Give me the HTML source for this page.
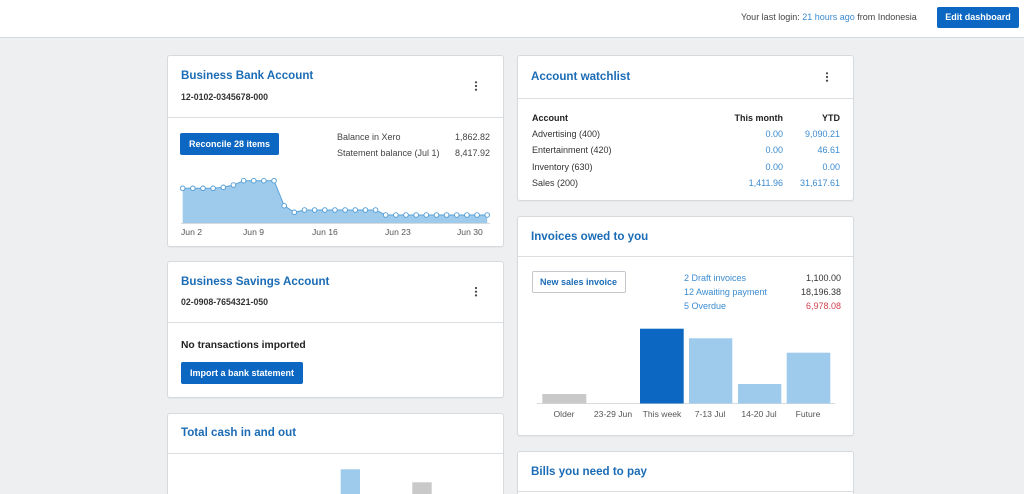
<!DOCTYPE html>
<html><head><meta charset="utf-8">
<style>
*{margin:0;padding:0;box-sizing:border-box}
html,body{width:1024px;height:494px;overflow:hidden;background:#edeff1;font-family:"Liberation Sans",Arial,sans-serif;color:#2a2a2a}
#wrap{position:relative;width:1024px;height:494px;overflow:hidden;background:#edeff1}
.a{position:absolute;white-space:nowrap}
.topbar{position:absolute;left:0;top:0;width:1024px;height:38px;background:#fff;border-bottom:1px solid #d6d9dc}
.card{position:absolute;background:#fff;border:1px solid #d7dadd;border-radius:3px;box-shadow:0 1px 1px rgba(0,0,0,0.04)}
.title{font-size:11.6px;font-weight:bold;color:#1b6cb6;line-height:14px}
.sm{font-size:9px;line-height:12px}
.b{font-weight:bold}
.btn{position:absolute;background:#0b67c2;color:#fff;font-weight:bold;font-size:9px;border-radius:2px;text-align:center}
.lnk{color:#3b8bd0}
.r{text-align:right}
.gl{color:#555}
</style></head><body>
<div id="wrap">
<div class="topbar"></div>
<div class="a sm" style="left:741px;top:11px;color:#444">Your last login: <span class="lnk">21 hours ago</span> from Indonesia</div>
<div class="btn" style="left:937px;top:7px;width:82px;height:21px;line-height:21px">Edit dashboard</div>

<!-- cards -->
<div class="card" style="left:167px;top:55px;width:337px;height:192px"></div>
<div class="card" style="left:167px;top:261px;width:337px;height:137px"></div>
<div class="card" style="left:167px;top:413px;width:337px;height:100px"></div>
<div class="card" style="left:517px;top:55px;width:337px;height:146px"></div>
<div class="card" style="left:517px;top:216px;width:337px;height:220px"></div>
<div class="card" style="left:517px;top:451px;width:337px;height:60px"></div>

<svg class="a" style="left:0;top:0" width="1024" height="494" viewBox="0 0 1024 494">
  <g stroke="#dcdfe2" stroke-width="1">
    <line x1="168" y1="117.5" x2="503" y2="117.5"/>
    <line x1="168" y1="322.5" x2="503" y2="322.5"/>
    <line x1="168" y1="453.5" x2="503" y2="453.5"/>
    <line x1="518" y1="98.5" x2="853" y2="98.5"/>
    <line x1="518" y1="256.5" x2="853" y2="256.5"/>
    <line x1="518" y1="491.5" x2="853" y2="491.5"/>
  </g>
  <!-- kebabs -->
  <g fill="#444">
    <circle cx="476" cy="82.3" r="1.1"/><circle cx="476" cy="86" r="1.1"/><circle cx="476" cy="89.7" r="1.1"/>
    <circle cx="476" cy="288" r="1.1"/><circle cx="476" cy="291.7" r="1.1"/><circle cx="476" cy="295.4" r="1.1"/>
    <circle cx="827" cy="73.3" r="1.1"/><circle cx="827" cy="77" r="1.1"/><circle cx="827" cy="80.7" r="1.1"/>
  </g>
  <!-- bank area chart -->
  <polygon fill="#9ecbeb" points="182.7,223.3 182.7,188.3 192.85,188.3 203,188.3 213.15,188.3 223.3,187.3 233.45,185 243.6,180.7 253.75,180.7 263.9,180.7 274.05,180.7 284.2,205.7 294.35,212.3 304.5,210 314.65,210 324.8,210 334.95,210 345.1,210 355.25,210 365.4,210 375.55,210 385.7,215 395.85,215 406,215 416.15,215 426.3,215 436.45,215 446.6,215 456.75,215 466.9,215 477.05,215 487.2,215 487.2,223.3"/>
  <polyline fill="none" stroke="#5aa3da" stroke-width="1" points="182.7,188.3 192.85,188.3 203,188.3 213.15,188.3 223.3,187.3 233.45,185 243.6,180.7 253.75,180.7 263.9,180.7 274.05,180.7 284.2,205.7 294.35,212.3 304.5,210 314.65,210 324.8,210 334.95,210 345.1,210 355.25,210 365.4,210 375.55,210 385.7,215 395.85,215 406,215 416.15,215 426.3,215 436.45,215 446.6,215 456.75,215 466.9,215 477.05,215 487.2,215"/>
  <line x1="181" y1="223.5" x2="490" y2="223.5" stroke="#d8dbde" stroke-width="1"/>
  <g fill="#fff" stroke="#4f9bd6" stroke-width="0.9">
    <circle cx="182.7" cy="188.3" r="2.3"/><circle cx="192.85" cy="188.3" r="2.3"/><circle cx="203" cy="188.3" r="2.3"/><circle cx="213.15" cy="188.3" r="2.3"/><circle cx="223.3" cy="187.3" r="2.3"/><circle cx="233.45" cy="185" r="2.3"/><circle cx="243.6" cy="180.7" r="2.3"/><circle cx="253.75" cy="180.7" r="2.3"/><circle cx="263.9" cy="180.7" r="2.3"/><circle cx="274.05" cy="180.7" r="2.3"/><circle cx="284.2" cy="205.7" r="2.3"/><circle cx="294.35" cy="212.3" r="2.3"/><circle cx="304.5" cy="210" r="2.3"/><circle cx="314.65" cy="210" r="2.3"/><circle cx="324.8" cy="210" r="2.3"/><circle cx="334.95" cy="210" r="2.3"/><circle cx="345.1" cy="210" r="2.3"/><circle cx="355.25" cy="210" r="2.3"/><circle cx="365.4" cy="210" r="2.3"/><circle cx="375.55" cy="210" r="2.3"/><circle cx="385.7" cy="215" r="2.3"/><circle cx="395.85" cy="215" r="2.3"/><circle cx="406" cy="215" r="2.3"/><circle cx="416.15" cy="215" r="2.3"/><circle cx="426.3" cy="215" r="2.3"/><circle cx="436.45" cy="215" r="2.3"/><circle cx="446.6" cy="215" r="2.3"/><circle cx="456.75" cy="215" r="2.3"/><circle cx="466.9" cy="215" r="2.3"/><circle cx="477.05" cy="215" r="2.3"/><circle cx="487.2" cy="215" r="2.3"/>
  </g>
  <!-- invoices bars -->
  <line x1="537" y1="403.5" x2="835" y2="403.5" stroke="#d8dbde" stroke-width="1"/>
  <rect x="542.3" y="394" width="44" height="9.5" fill="#c9c9c9"/>
  <rect x="640" y="328.7" width="43.7" height="74.8" fill="#0b67c2"/>
  <rect x="689" y="338.3" width="43.3" height="65.2" fill="#9ecbeb"/>
  <rect x="738" y="384" width="43.3" height="19.5" fill="#9ecbeb"/>
  <rect x="786.7" y="352.7" width="43.6" height="50.8" fill="#9ecbeb"/>
  <!-- total cash bars -->
  <rect x="340.7" y="469.3" width="19.3" height="30" fill="#9ecbeb"/>
  <rect x="412.3" y="482.3" width="19.4" height="20" fill="#c9c9c9"/>
</svg>

<!-- Business Bank Account -->
<div class="a title" style="left:181px;top:69px">Business Bank Account</div>
<div class="a b" style="left:181px;top:91px;font-size:8.8px;line-height:12px;color:#333">12-0102-0345678-000</div>
<div class="btn" style="left:180px;top:133px;width:99px;height:22px;line-height:22px">Reconcile 28 items</div>
<div class="a sm" style="left:337px;top:131px;color:#444">Balance in Xero</div>
<div class="a sm r" style="left:420px;width:70px;top:131px;color:#444">1,862.82</div>
<div class="a sm" style="left:337px;top:147px;color:#444">Statement balance (Jul 1)</div>
<div class="a sm r" style="left:420px;width:70px;top:147px;color:#444">8,417.92</div>
<div class="a gl" style="left:181px;top:226px;font-size:8.6px;line-height:12px">Jun 2</div>
<div class="a gl" style="left:243px;top:226px;font-size:8.6px;line-height:12px">Jun 9</div>
<div class="a gl" style="left:312px;top:226px;font-size:8.6px;line-height:12px">Jun 16</div>
<div class="a gl" style="left:385px;top:226px;font-size:8.6px;line-height:12px">Jun 23</div>
<div class="a gl" style="left:457px;top:226px;font-size:8.6px;line-height:12px">Jun 30</div>

<!-- Savings -->
<div class="a title" style="left:181px;top:275px">Business Savings Account</div>
<div class="a b" style="left:181px;top:296px;font-size:8.8px;line-height:12px;color:#333">02-0908-7654321-050</div>
<div class="a b" style="left:181px;top:339px;font-size:10.3px;line-height:14px;color:#222">No transactions imported</div>
<div class="btn" style="left:181px;top:362px;width:122px;height:22px;line-height:22px">Import a bank statement</div>

<!-- Total cash -->
<div class="a title" style="left:181px;top:426px">Total cash in and out</div>

<!-- Watchlist -->
<div class="a title" style="left:531px;top:70px">Account watchlist</div>
<div class="a sm b" style="left:532px;top:112px;color:#222">Account</div>
<div class="a sm b r" style="left:700px;width:83px;top:112px;color:#222">This month</div>
<div class="a sm b r" style="left:790px;width:50px;top:112px;color:#222">YTD</div>
<div class="a sm" style="left:532px;top:128px;color:#333">Advertising (400)</div>
<div class="a sm r lnk" style="left:700px;width:83px;top:128px">0.00</div>
<div class="a sm r lnk" style="left:780px;width:60px;top:128px">9,090.21</div>
<div class="a sm" style="left:532px;top:144px;color:#333">Entertainment (420)</div>
<div class="a sm r lnk" style="left:700px;width:83px;top:144px">0.00</div>
<div class="a sm r lnk" style="left:780px;width:60px;top:144px">46.61</div>
<div class="a sm" style="left:532px;top:160.5px;color:#333">Inventory (630)</div>
<div class="a sm r lnk" style="left:700px;width:83px;top:160.5px">0.00</div>
<div class="a sm r lnk" style="left:780px;width:60px;top:160.5px">0.00</div>
<div class="a sm" style="left:532px;top:176.5px;color:#333">Sales (200)</div>
<div class="a sm r lnk" style="left:700px;width:83px;top:176.5px">1,411.96</div>
<div class="a sm r lnk" style="left:780px;width:60px;top:176.5px">31,617.61</div>

<!-- Invoices -->
<div class="a title" style="left:531px;top:230px">Invoices owed to you</div>
<div class="a b" style="left:531.5px;top:271px;width:94px;height:21.5px;line-height:20px;border:1px solid #c4c8cc;border-radius:2px;background:#fff;color:#1b6cb6;font-size:9px;text-align:center">New sales invoice</div>
<div class="a sm lnk" style="left:684px;top:272px">2 Draft invoices</div>
<div class="a sm r" style="left:780px;width:61px;top:272px;color:#333">1,100.00</div>
<div class="a sm lnk" style="left:684px;top:286px">12 Awaiting payment</div>
<div class="a sm r" style="left:780px;width:61px;top:286px;color:#333">18,196.38</div>
<div class="a sm lnk" style="left:684px;top:299.5px">5 Overdue</div>
<div class="a sm r" style="left:780px;width:61px;top:299.5px;color:#d2404f">6,978.08</div>
<div class="a gl" style="left:534px;width:60px;text-align:center;top:408px;font-size:8.6px;line-height:12px">Older</div>
<div class="a gl" style="left:583px;width:60px;text-align:center;top:408px;font-size:8.6px;line-height:12px">23-29 Jun</div>
<div class="a gl" style="left:632px;width:60px;text-align:center;top:408px;font-size:8.6px;line-height:12px">This week</div>
<div class="a gl" style="left:680px;width:60px;text-align:center;top:408px;font-size:8.6px;line-height:12px">7-13 Jul</div>
<div class="a gl" style="left:729px;width:60px;text-align:center;top:408px;font-size:8.6px;line-height:12px">14-20 Jul</div>
<div class="a gl" style="left:778px;width:60px;text-align:center;top:408px;font-size:8.6px;line-height:12px">Future</div>

<!-- Bills -->
<div class="a title" style="left:531px;top:465px">Bills you need to pay</div>
</div>
</body></html>
